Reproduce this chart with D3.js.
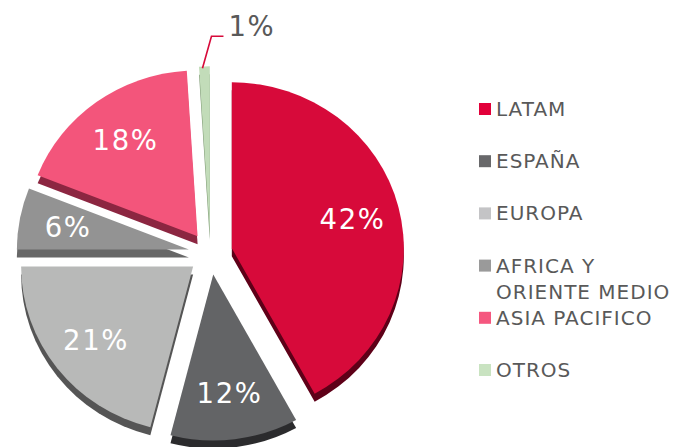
<!DOCTYPE html>
<html><head><meta charset="utf-8">
<script src="https://cdn.jsdelivr.net/npm/d3@7"></script>
<style>html,body{margin:0;padding:0;background:#fff;} svg{display:block;font-family:"DejaVu Sans",Verdana,sans-serif;}</style>
</head><body><svg id="c" width="675" height="447"></svg>
<script>
const categories = ["LATAM","ESPAÑA","EUROPA","AFRICA Y\nORIENTE MEDIO","ASIA PACIFICO","OTROS"];
const values = [42,12,21,6,18,1];
const valueLabels = ["42%","12%","21%","6%","18%","1%"];
const faceColors = ["#D70A3A","#636466","#B8B9B8","#939393","#F3557B","#C2DCB9"];
const sideColors = ["#5E0018","#2B2B2D","#555555","#676767","#8C2641","#7E9A74"];
const legendColors = ["#E2003A","#68686A","#C4C4C6","#9A9A9A","#F5577F","#C9E3C1"];

const svg = d3.select("#c");
const cx = 210.5, cy = 253.5, rx = 172, ky = 0.965, explode = 22, depth = 8;
const arcs = d3.pie().sort(null).value(d => d)(values);
const arc = d3.arc().innerRadius(0).outerRadius(rx);

arcs.forEach(a => {
  a.mid = (a.startAngle + a.endAngle) / 2;
  a.ax = cx + explode * Math.sin(a.mid);
  a.ay = cy - explode * Math.cos(a.mid) * ky;
});

const sides = svg.append("g");
sides.selectAll("path").data(arcs).join("path")
  .attr("transform", d => `translate(${d.ax},${d.ay + depth}) scale(1,${ky})`)
  .attr("d", arc)
  .attr("fill", (d, i) => sideColors[i]);

const tops = svg.append("g");
tops.selectAll("path").data(arcs).join("path")
  .attr("transform", d => `translate(${d.ax},${d.ay}) scale(1,${ky})`)
  .attr("d", arc)
  .attr("fill", (d, i) => faceColors[i]);

// inside labels
const lr = rx * 0.72, ls = 1.6;
svg.append("g").selectAll("text").data(arcs.filter(d => d.data >= 3)).join("text")
  .attr("x", d => d.ax + lr * Math.sin(d.mid) + ls / 2)
  .attr("y", d => d.ay - lr * Math.cos(d.mid) * ky)
  .attr("text-anchor", "middle")
  .attr("dominant-baseline", "central")
  .attr("font-size", 27.5)
  .attr("letter-spacing", ls)
  .attr("fill", "#ffffff")
  .text(d => valueLabels[d.index]);

// outside labels with leader line
arcs.filter(d => d.data < 3).forEach(d => {
  const sx = d.ax + (rx - 2) * Math.sin(d.mid) - 2, sy = d.ay - (rx - 2) * Math.cos(d.mid) * ky;
  const ex = sx + 9, ey = sy - 32;
  svg.append("path")
    .attr("d", d3.line()([[sx, sy], [ex, ey], [ex + 12, ey]]))
    .attr("fill", "none").attr("stroke", "#D70A3A").attr("stroke-width", 1.6);
  svg.append("text")
    .attr("x", ex + 17).attr("y", ey)
    .attr("font-size", 27.5).attr("letter-spacing", ls).attr("fill", "#595959")
    .text(valueLabels[d.index]);
});

// legend
const ly = d3.scalePoint().domain(categories).range([116, 377]);
const lg = svg.append("g");
categories.forEach((c, i) => {
  const y = ly(c);
  lg.append("rect").attr("x", 479).attr("y", y - 13).attr("width", 12).attr("height", 12)
    .attr("fill", legendColors[i]);
  const t = lg.append("text").attr("x", 496).attr("y", y)
    .attr("font-size", 20).attr("letter-spacing", 1.0).attr("fill", "#595959");
  c.split("\n").forEach((line, j) => {
    t.append("tspan").attr("x", 496).attr("dy", j === 0 ? 0 : 26).text(line);
  });
});
</script></body></html>
